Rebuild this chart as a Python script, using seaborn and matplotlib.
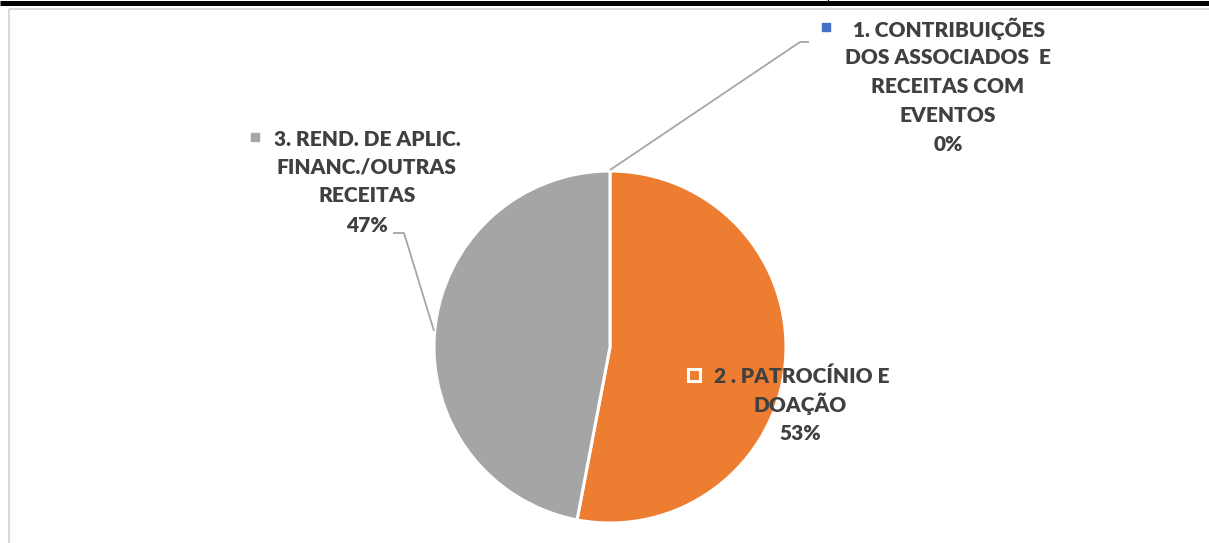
import numpy as np
import seaborn as sns
import matplotlib.pyplot as plt

categories = ['1. CONTRIBUIÇÕES\nDOS ASSOCIADOS  E\nRECEITAS COM\nEVENTOS',
              '2 . PATROCÍNIO E\nDOAÇÃO',
              '3. REND. DE APLIC.\nFINANC./OUTRAS\nRECEITAS']
values = [0, 53, 47]
colors = ['#4472C4', '#ED7D31', '#A5A5A5']

sns.set_style('white')
plt.rcParams['font.family'] = ['Lato', 'DejaVu Sans']

W, H = 1209, 543
fig = plt.figure(figsize=(W / 100, H / 100), dpi=100)
ax = fig.add_axes([0, 0, 1, 1])

# pie, drawn clockwise from 12 o'clock like the Excel chart
ax.pie(values, colors=colors, startangle=90, counterclock=False,
       center=(610, H - 347), radius=176,
       wedgeprops=dict(edgecolor='white', linewidth=2.2))
ax.set_xlim(0, W)
ax.set_ylim(0, H)
ax.set_aspect('auto')
ax.axis('off')

total = sum(values)
pcts = [f'{round(v / total * 100)}%' for v in values]

txt = dict(color='#404040', fontsize=15, fontweight=800, va='center')
lead = dict(color='#A6A6A6', lw=1.3, solid_capstyle='butt')

# label 1 (top right)
lines = categories[0].split('\n') + [pcts[0]]
ax.plot([826], [H - 27], marker='s', ms=5.5, color=colors[0], ls='none')
ax.text(853, H - 29, lines[0], ha='left', **txt)
for i, s in enumerate(lines[1:]):
    ax.text(948, H - (58 + 28.7 * i), s, ha='center', **txt)
ax.plot([610, 800, 809], [H - 170, H - 42, H - 42], **lead)

# label 3 (left)
lines = categories[2].split('\n') + [pcts[2]]
ax.plot([255], [H - 137], marker='s', ms=5.5, color=colors[2], ls='none')
ax.text(274, H - 139, lines[0], ha='left', **txt)
for i, s in enumerate(lines[1:]):
    ax.text(367, H - (167 + 29 * i), s, ha='center', **txt)
ax.plot([393, 404, 434], [H - 233, H - 233, H - 331], **lead)

# label 2 (inside orange slice)
lines = categories[1].split('\n') + [pcts[1]]
ax.plot([694], [H - 375], marker='s', ms=8.5, mfc=colors[1], mec='white',
        mew=2.2, ls='none')
ax.text(714, H - 376, lines[0], ha='left', **txt)
for i, s in enumerate(lines[1:]):
    ax.text(800, H - (404 + 29 * i), s, ha='center', **txt)

# frame bits at the top and left
ax.plot([0, W], [H - 2.5, H - 2.5], color='black', lw=3.6, solid_capstyle='butt')
ax.plot([828, 828], [H, H - 3], color='black', lw=1)
ax.plot([8.5, W], [H - 8.5, H - 8.5], color='#D9D9D9', lw=1.5, solid_capstyle='butt')
ax.plot([8.5, 8.5], [H - 8.5, 0], color='#D9D9D9', lw=1.5, solid_capstyle='butt')

fig.savefig('out.png', dpi=100)
